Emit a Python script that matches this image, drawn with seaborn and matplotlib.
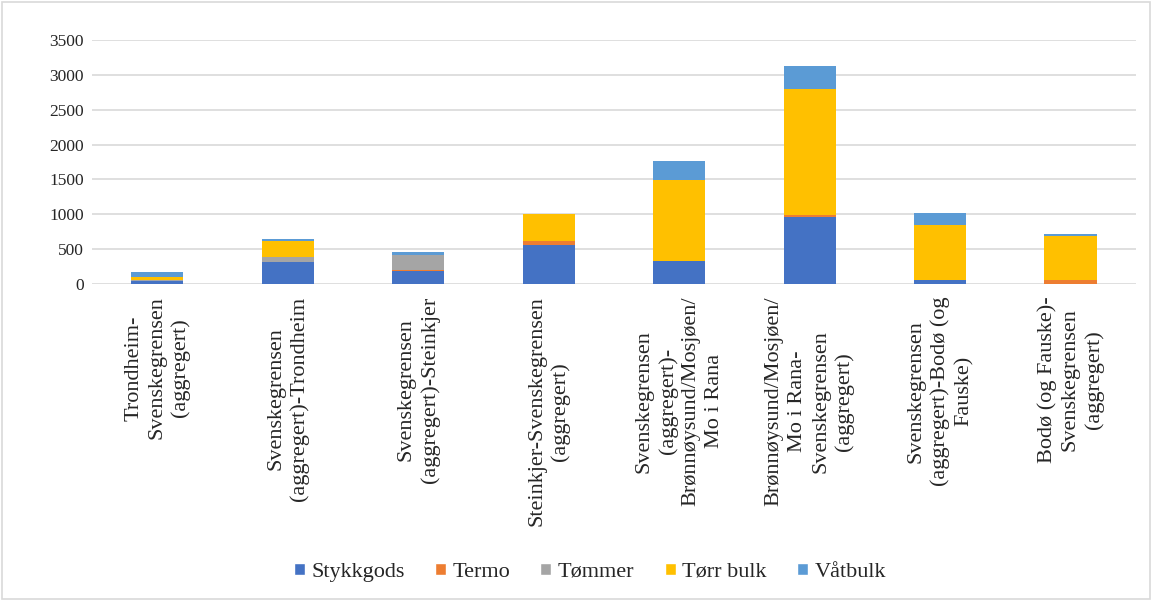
import matplotlib
matplotlib.use("Agg")
import matplotlib.pyplot as plt
from matplotlib.patches import Patch, Rectangle
import numpy as np
import pandas as pd
import seaborn as sns

routes = [
    "Trondheim-\nSvenskegrensen\n(aggregert)",
    "Svenskegrensen\n(aggregert)-Trondheim",
    "Svenskegrensen\n(aggregert)-Steinkjer",
    "Steinkjer-Svenskegrensen\n(aggregert)",
    "Svenskegrensen\n(aggregert)-\nBrønnøysund/Mosjøen/\nMo i Rana",
    "Brønnøysund/Mosjøen/\nMo i Rana-\nSvenskegrensen\n(aggregert)",
    "Svenskegrensen\n(aggregert)-Bodø (og\nFauske)",
    "Bodø (og Fauske)-\nSvenskegrensen\n(aggregert)",
]
stykkgods = [40, 315, 190, 553, 324, 955, 50, 5]
termo = [8, 5, 10, 67, 0, 33, 5, 45]
tommer = [12, 62, 215, 0, 0, 0, 5, 0]
torr_bulk = [40, 239, 5, 387, 1171, 1811, 790, 635]
vatbulk = [72, 29, 43, 3, 272, 335, 170, 30]

series = ["Stykkgods", "Termo", "Tømmer", "Tørr bulk", "Våtbulk"]
colors = ["#4472C4", "#ED7D31", "#A5A5A5", "#FFC000", "#5B9BD5"]

df = pd.DataFrame({
    "route": routes,
    "Stykkgods": stykkgods,
    "Termo": termo,
    "Tømmer": tommer,
    "Tørr bulk": torr_bulk,
    "Våtbulk": vatbulk,
})
cum = df[series].cumsum(axis=1)

sns.set_style("white")
plt.rcParams["font.family"] = ["Liberation Serif", "DejaVu Serif"]

fig = plt.figure(figsize=(11.52, 6.01), dpi=100)
ax = fig.add_axes([0.0799, 0.5275, 0.906, 0.4059])

# draw cumulative totals from the top series down so they stack
for name, color in reversed(list(zip(series, colors))):
    sns.barplot(x=df["route"], y=cum[name], color=color, width=0.4,
                ax=ax, saturation=1, linewidth=0)

ax.set_ylim(0, 3500)
ax.set_yticks(np.arange(0, 3501, 500))
ax.yaxis.grid(True, color="#D9D9D9", linewidth=1.2)
ax.set_axisbelow(True)
for s in ax.spines.values():
    s.set_visible(False)
ax.set_xlabel("")
ax.set_ylabel("")
ax.tick_params(axis="both", length=0, colors="#262626")
ax.tick_params(axis="y", pad=6, labelsize=12.5)
ax.tick_params(axis="x", pad=9, labelsize=16)
for lbl in ax.get_xticklabels():
    lbl.set_rotation(90)
    lbl.set_ha("center")
    lbl.set_va("top")
    lbl.set_multialignment("center")
    lbl.set_linespacing(1.3)

handles = [Patch(facecolor=c, label=n) for n, c in zip(series, colors)]
fig.legend(handles=handles, loc="center", bbox_to_anchor=(0.512, 0.048),
           ncol=5, frameon=False, fontsize=16, handlelength=0.5,
           handleheight=0.5, handletextpad=0.3, columnspacing=1.35)

fig.patches.append(Rectangle((0.002, 0.003), 0.996, 0.994, transform=fig.transFigure,
                             fill=False, edgecolor="#D9D9D9", linewidth=1.2))

fig.savefig("out.png", dpi=100)
